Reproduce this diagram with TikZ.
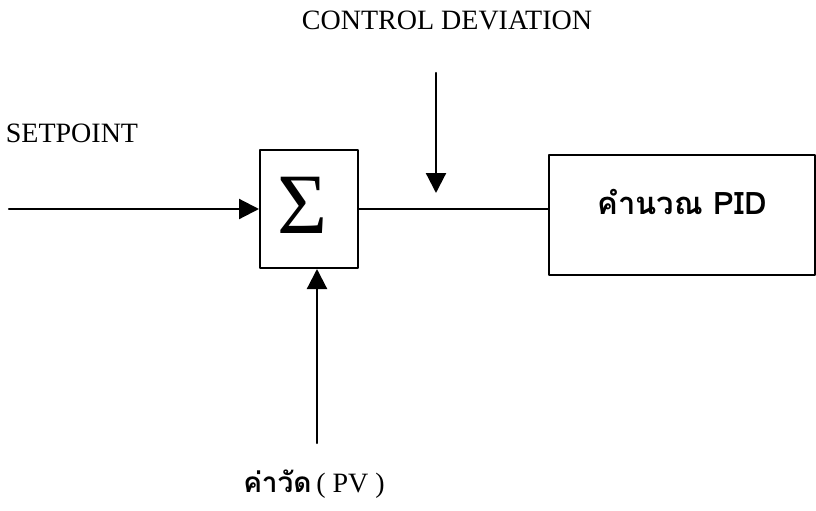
\documentclass[tikz,border=0pt]{standalone}
\usepackage{fontspec}
\setmainfont{Liberation Serif}
\newfontfamily\thaifont[Script=Thai]{Loma}
\usetikzlibrary{arrows.meta,positioning}
\begin{document}
\begin{tikzpicture}[x=0.5pt, y=-0.5pt, line join=round, line cap=round, >={Triangle[length=10pt,width=10pt]},
		font=\fontsize{14pt}{16pt}\selectfont,
		block/.style={draw, line width=1pt, inner sep=0pt},
		wire/.style={line width=1.1pt}]
				\useasboundingbox (0,0) rectangle (816,510);
				\node[block, minimum width=49pt, minimum height=59pt] (sum) at (309,209) {};
				\node[xshift=-3pt, yshift=2pt] (sigma) at (sum) {\fontsize{43pt}{43pt}\selectfont Σ};
				\node[block, minimum width=133pt, minimum height=60pt] (pid) at (681.5,215) {};
				\node (pidtext) at (682,202) {\fontsize{15.5pt}{18pt}\selectfont\thaifont\bfseries คำนวณ PID};
				\node (setpoint) at (72,133) {SETPOINT};
				\node (deviation) at (447,20) {CONTROL DEVIATION};
				\node (pv) at (314,484) {{\thaifont\bfseries ค่าวัด}\,( PV )};
				\coordinate (spin) at (9,209);
				\coordinate (devtop) at (436,73);
				\coordinate (devtip) at (436,193);
				\coordinate (pvin) at (317,443);
				\draw[wire, ->] (spin) -- (sum.west);
				\draw[wire] (sum.east) -- (pid.west |- sum.east);
				\draw[wire, ->] (devtop) -- (devtip);
				\draw[wire, ->] (pvin) -- (pvin |- sum.south);
			\end{tikzpicture}
\end{document}
